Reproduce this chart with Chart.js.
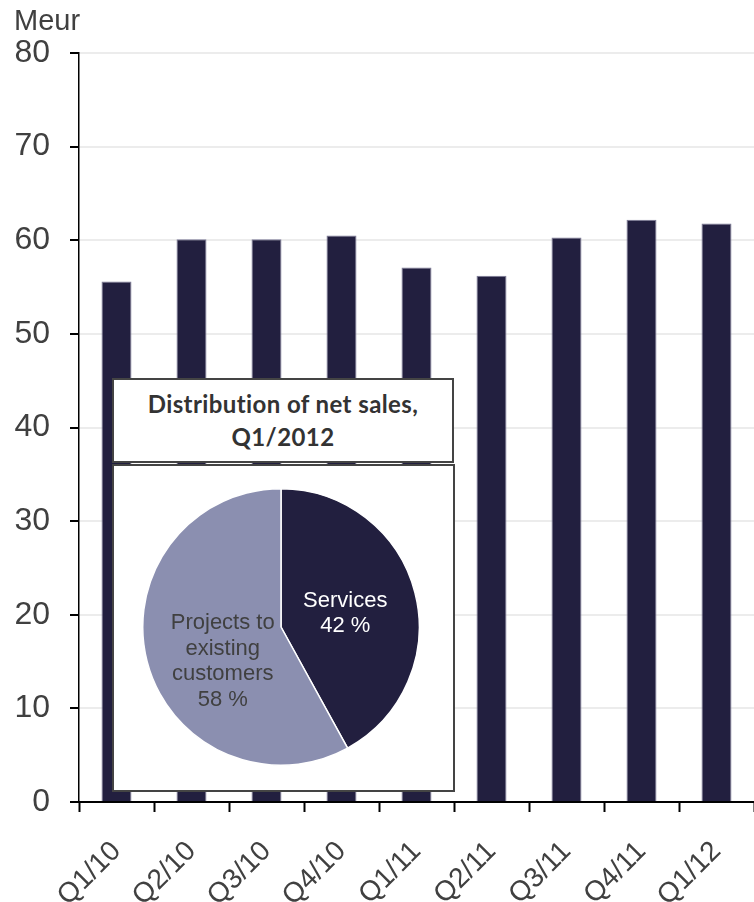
<!DOCTYPE html>
<html>
<head>
<meta charset="utf-8">
<script src="https://cdn.jsdelivr.net/npm/chart.js@4.4.1/dist/chart.umd.min.js"></script>
<style>
  html, body { margin: 0; padding: 0; background: #fff; }
  #wrap { position: relative; width: 754px; height: 902px; }
  #salesChart { position: absolute; left: 0; top: 0; }
  .box { position: absolute; background: #fff; border: 2px solid #444; box-sizing: border-box; }
  #titleBox {
    left: 112px; top: 378px; width: 342px; height: 85px;
    font-family: Lato, "DejaVu Sans", sans-serif; font-weight: 700; font-size: 24px;
    letter-spacing: 0.4px; color: #333; text-align: center; line-height: 33px; padding-top: 7px;
  }
  #pieBox { left: 112px; top: 464px; width: 343px; height: 328px; }
  #pieHolder { position: absolute; left: 142px; top: 488px; width: 278px; height: 278px; }
</style>
</head>
<body>
<div id="wrap">
  <canvas id="salesChart" width="754" height="902"></canvas>
  <div class="box" id="titleBox">Distribution of net sales,<br>Q1/2012</div>
  <div class="box" id="pieBox"></div>
  <div id="pieHolder"><canvas id="pieChart" width="278" height="278"></canvas></div>
</div>
<script>
let quarters = ['Q1/10', 'Q2/10', 'Q3/10', 'Q4/10', 'Q1/11', 'Q2/11', 'Q3/11', 'Q4/11', 'Q1/12'];
let netSales = [55.6, 60.1, 60.1, 60.5, 57.1, 56.2, 60.3, 62.2, 61.8];
let yTicks = [0, 10, 20, 30, 40, 50, 60, 70, 80];

let pieLabels = [['Services'], ['Projects to', 'existing', 'customers']];
let pieShares = [42, 58];

let navy = '#221f3f';
let lilac = '#8b8fb0';
let textGrey = '#404040';
let sans = '"Liberation Sans", Arial, sans-serif';

// "Meur" unit label above the value axis
let unitLabel = {
    id: 'unitLabel',
    afterDraw(chart) {
        let ctx = chart.ctx;
        ctx.save();
        ctx.font = '29px ' + sans;
        ctx.fillStyle = textGrey;
        ctx.textBaseline = 'alphabetic';
        ctx.fillText('Meur', 14, 30);
        ctx.restore();
    }
}

new Chart(document.getElementById('salesChart').getContext('2d'), {
    type: 'bar',
    data: {
        labels: quarters,
        datasets: [{
            data: netSales,
            backgroundColor: navy,
            borderColor: '#7d7b98',
            borderWidth: 1,
            barPercentage: 0.4,
            categoryPercentage: 1
        }]
    },
    options: {
        responsive: false,
        animation: false,
        events: [],
        layout: { padding: { top: 53, right: 0, left: 0, bottom: 0 } },
        plugins: { legend: { display: false }, tooltip: { enabled: false } },
        scales: {
            x: {
                grid: { display: true, drawOnChartArea: false, offset: true, tickLength: 10, tickColor: '#000', tickWidth: 2 },
                border: { color: '#000', width: 2 },
                ticks: {
                    color: textGrey,
                    font: { family: sans, size: 28 },
                    minRotation: 45,
                    maxRotation: 45,
                    padding: 23
                },
                afterFit(scale) {
                    scale.height = 100;
                    scale.paddingLeft = 0;
                    scale.paddingRight = 0;
                }
            },
            y: {
                min: 0,
                max: 80,
                afterBuildTicks(scale) { scale.ticks = yTicks.map(v => ({ value: v })); },
                grid: { color: '#ececec', lineWidth: 2, tickLength: 9, tickColor: '#000', tickWidth: 2 },
                border: { color: '#000', width: 1.5 },
                ticks: {
                    color: textGrey,
                    font: { family: sans, size: 32 },
                    padding: 20
                },
                afterFit(scale) { scale.width = 79; }
            }
        }
    },
    plugins: [unitLabel]
})

// slice captions, placed around each arc's middle angle
let sliceText = {
    id: 'sliceText',
    afterDatasetsDraw(chart) {
        let ctx = chart.ctx;
        let arcs = chart.getDatasetMeta(0).data;
        let nudge = [[0, 3], [6, 18]];
        let colours = ['#fff', textGrey];
        ctx.save();
        ctx.font = '22px ' + sans;
        ctx.textAlign = 'center';
        ctx.textBaseline = 'middle';
        arcs.forEach((arc, i) => {
            let mid = (arc.startAngle + arc.endAngle) / 2;
            let r = arc.outerRadius * 0.48;
            let x = arc.x + Math.cos(mid) * r + nudge[i][0];
            let y = arc.y + Math.sin(mid) * r + nudge[i][1];
            let lines = pieLabels[i].concat([pieShares[i] + ' %']);
            let lineH = 25.7;
            let top = y - (lines.length - 1) * lineH / 2;
            ctx.fillStyle = colours[i];
            lines.forEach((line, j) => ctx.fillText(line, x, top + j * lineH));
        });
        ctx.restore();
    }
}

new Chart(document.getElementById('pieChart').getContext('2d'), {
    type: 'pie',
    data: {
        labels: pieLabels.map(l => l.join(' ')),
        datasets: [{
            data: pieShares,
            backgroundColor: [navy, lilac],
            borderColor: '#fff',
            borderWidth: 1.5
        }]
    },
    options: {
        responsive: false,
        animation: false,
        events: [],
        plugins: { legend: { display: false }, tooltip: { enabled: false } }
    },
    plugins: [sliceText]
})
</script>
</body>
</html>
